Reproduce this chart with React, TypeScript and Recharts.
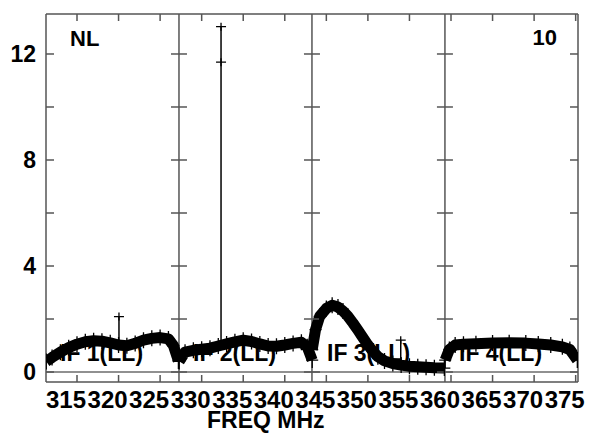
import React from 'react';
import { LineChart, Line, XAxis, YAxis, ReferenceLine, ReferenceDot } from 'recharts';

// channel frequencies (MHz) and amplitudes per IF
const IF1_FREQ = [311.3, 312, 313, 314, 315, 316, 317, 318, 319, 320, 321, 322, 323, 324, 325, 326, 326.6, 327.2];
const IF1_AMP = [0.4, 0.55, 0.75, 0.92, 1.05, 1.14, 1.18, 1.16, 1.1, 1.02, 0.99, 1.08, 1.2, 1.27, 1.3, 1.25, 1.0, 0.42];

const IF2_FREQ = [327.3, 328, 329, 330, 331, 332, 333, 334, 335, 336, 337, 338, 339, 340, 341, 342, 342.7, 343.3];
const IF2_AMP = [0.4, 0.75, 0.82, 0.86, 0.9, 0.98, 1.06, 1.14, 1.2, 1.15, 1.06, 0.98, 0.97, 1.02, 1.08, 1.12, 0.95, 0.45];

const IF3_FREQ = [343.3, 343.7, 344.2, 345, 345.7, 346.4, 347, 347.6, 348.2, 348.8, 349.4, 350, 350.6, 351.2, 352, 353, 354, 355, 356, 357, 358, 359.2];
const IF3_AMP = [0.85, 1.6, 2.1, 2.4, 2.52, 2.45, 2.3, 2.1, 1.85, 1.58, 1.3, 1.02, 0.78, 0.58, 0.42, 0.32, 0.26, 0.22, 0.2, 0.18, 0.16, 0.15];

const IF4_FREQ = [359.3, 359.8, 360.5, 361.5, 363, 365, 367, 369, 370.5, 372, 373.4, 374.3, 375.2];
const IF4_AMP = [0.45, 0.85, 1.02, 1.05, 1.07, 1.09, 1.1, 1.09, 1.06, 1.02, 0.95, 0.85, 0.45];

// single-channel spikes: base of the spike, then the plotted points above it
const SPIKE_FREQ = [320.05, 332.33, 353.95];
const SPIKE_BASE = [1.02, 1.0, 0.26];
const SPIKE_PEAKS = [[2.09], [11.69, 13.03], [1.2]];

const IF_EDGES = [311.27, 327.27, 343.27, 359.27, 375.28];
const IF_NAMES = ['IF 1(LL)', 'IF 2(LL)', 'IF 3(LL)', 'IF 4(LL)'];

const X_TICKS = [315, 320, 325, 330, 335, 340, 345, 350, 355, 360, 365, 370, 375];
const Y_TICKS = [0, 2, 4, 6, 8, 10, 12];
const Y_LABELS = [0, 4, 8, 12];
const Y_DOMAIN = [-0.377, 13.509];

const W = 589;
const H = 435;
const FONT = '"Liberation Sans", Arial, Helvetica, sans-serif';
const FRAME = '#555';

const toRows = (freq: number[], amp: number[]) => freq.map((f, i) => ({ f, v: amp[i] }));

const ifSeries = [
  toRows(IF1_FREQ, IF1_AMP),
  toRows(IF2_FREQ, IF2_AMP),
  toRows(IF3_FREQ, IF3_AMP),
  toRows(IF4_FREQ, IF4_AMP),
];

const spikeSeries = SPIKE_FREQ.map((f, i) => [
  { f, v: SPIKE_BASE[i] },
  ...SPIKE_PEAKS[i].map((v) => ({ f, v })),
]);

function Cross(props: any) {
  const { cx, cy, hw = 6, hh = 8 } = props;
  if (cx == null || cy == null) return <g />;
  return (
    <path
      d={`M${cx - hw},${cy}h${hw * 2}M${cx},${cy - hh}v${hh * 2}`}
      stroke="#000"
      strokeWidth={1.3}
      fill="none"
    />
  );
}

const txt = (size: number) =>
  ({ fontFamily: FONT, fontWeight: 700, fontSize: size, fill: '#000' }) as const;

function LeftTick(props: any) {
  const { x, y, payload } = props;
  const show = Y_LABELS.includes(payload.value);
  return (
    <g>
      <line x1={x} x2={x + 8} y1={y} y2={y} stroke={FRAME} strokeWidth={1.5} />
      {show && (
        <text x={x - 10} y={y} dy="0.36em" textAnchor="end" style={txt(23)}>
          {payload.value}
        </text>
      )}
    </g>
  );
}

function RightTick(props: any) {
  const { x, y } = props;
  return <line x1={x} x2={x - 8} y1={y} y2={y} stroke={FRAME} strokeWidth={1.5} />;
}

function BottomTick(props: any) {
  const { x, y, payload } = props;
  return (
    <g>
      <line x1={x} x2={x} y1={y} y2={y - 7} stroke={FRAME} strokeWidth={1.5} />
      <text x={x - 11} y={y + 26} textAnchor="middle" style={txt(24)}>
        {payload.value}
      </text>
    </g>
  );
}

function TopTick(props: any) {
  const { x, y } = props;
  return <line x1={x} x2={x} y1={y} y2={y + 7} stroke={FRAME} strokeWidth={1.5} />;
}

export default function App() {
  return (
    <div style={{ position: 'absolute', left: 0, top: 0, width: W, height: H, background: '#fff' }}>
      {/* text that the data is drawn over */}
      <svg width={W} height={H} style={{ position: 'absolute', left: 0, top: 0 }}>
        {IF_NAMES.map((name, i) => (
          <text key={name} x={[60, 193, 327, 459][i]} y={361} style={txt(23)}>
            {name}
          </text>
        ))}
        <text x={70} y={46} style={txt(22)}>NL</text>
        <text x={557} y={45} textAnchor="end" style={txt(22)}>10</text>
        <text x={207} y={428} style={txt(23)}>FREQ MHz</text>
      </svg>
      <div style={{ position: 'absolute', left: 0, top: 0 }}>
        <LineChart width={W} height={H} margin={{ top: 0, right: 0, bottom: 0, left: 0 }}>
          <XAxis
            xAxisId={0}
            type="number"
            dataKey="f"
            domain={[IF_EDGES[0], IF_EDGES[4]]}
            ticks={X_TICKS}
            allowDataOverflow
            height={53}
            tickSize={0}
            tickMargin={0}
            tickLine={false}
            axisLine={{ stroke: FRAME, strokeWidth: 1.5 }}
            tick={<BottomTick />}
            interval={0}
          />
          <XAxis
            xAxisId="top"
            orientation="top"
            type="number"
            dataKey="f"
            domain={[IF_EDGES[0], IF_EDGES[4]]}
            ticks={X_TICKS}
            allowDataOverflow
            height={14}
            tickSize={0}
            tickMargin={0}
            tickLine={false}
            axisLine={{ stroke: FRAME, strokeWidth: 1.5 }}
            tick={<TopTick />}
            interval={0}
          />
          <YAxis
            yAxisId={0}
            type="number"
            domain={Y_DOMAIN}
            ticks={Y_TICKS}
            allowDataOverflow
            width={46}
            tickSize={0}
            tickMargin={0}
            tickLine={false}
            axisLine={{ stroke: FRAME, strokeWidth: 1.5 }}
            tick={<LeftTick />}
            interval={0}
          />
          <YAxis
            yAxisId="right"
            orientation="right"
            type="number"
            domain={Y_DOMAIN}
            ticks={Y_TICKS}
            allowDataOverflow
            width={11}
            tickSize={0}
            tickMargin={0}
            tickLine={false}
            axisLine={{ stroke: FRAME, strokeWidth: 1.5 }}
            tick={<RightTick />}
            interval={0}
          />

          <ReferenceLine y={0} stroke="#222" strokeWidth={1.2} />
          {IF_EDGES.slice(1, 4).map((e) => (
            <ReferenceLine key={`edge-${e}`} x={e} stroke={FRAME} strokeWidth={1.5} />
          ))}
          {IF_EDGES.slice(1, 4).flatMap((e) =>
            Y_TICKS.map((t) => (
              <ReferenceDot
                key={`etick-${e}-${t}`}
                x={e}
                y={t}
                ifOverflow="visible"
                shape={(p: any) => (
                  <line x1={p.cx - 8} x2={p.cx + 8} y1={p.cy} y2={p.cy} stroke={FRAME} strokeWidth={1.5} />
                )}
              />
            ))
          )}

          {ifSeries.map((rows, i) => (
            <Line
              key={`if-${i}`}
              data={rows}
              dataKey="v"
              type="linear"
              stroke="#000"
              strokeWidth={11}
              strokeLinejoin="round"
              dot={(p: any) => <Cross key={`c-${i}-${p.index}`} cx={p.cx} cy={p.cy} />}
              activeDot={false}
              isAnimationActive={false}
            />
          ))}
          {spikeSeries.map((rows, i) => (
            <Line
              key={`spike-${i}`}
              data={rows}
              dataKey="v"
              type="linear"
              stroke="#000"
              strokeWidth={1.5}
              dot={(p: any) =>
                p.index === 0 ? (
                  <g key={`s-${i}-${p.index}`} />
                ) : (
                  <Cross key={`s-${i}-${p.index}`} cx={p.cx} cy={p.cy} hw={5} hh={4} />
                )
              }
              activeDot={false}
              isAnimationActive={false}
            />
          ))}
        </LineChart>
      </div>
    </div>
  );
}
